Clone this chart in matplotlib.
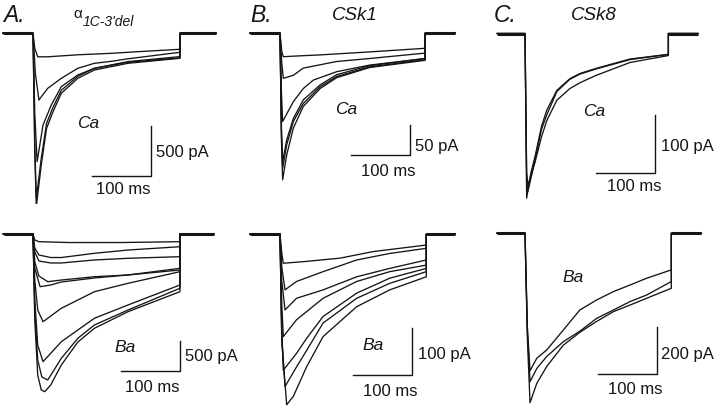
import matplotlib
matplotlib.use("Agg")
import matplotlib.pyplot as plt

plt.rcParams['font.family'] = ['Liberation Sans', 'DejaVu Sans']

# current traces: time (ms from pulse onset), current (pA)
# panel A, alpha1C-3'del, Ca
a_ca_t = [[0, 3, 8, 25, 76, 133, 189, 249],
          [0, 4, 10, 25, 48, 76, 104, 133, 161, 249],
          [0, 3, 7, 17, 31, 48, 76, 104, 161, 249],
          [0, 3, 5.6, 14, 23, 34, 48, 76, 104, 161, 249],
          [0, 3, 5.6, 14, 23, 34, 48, 76, 104, 161, 249]]
a_ca_i = [[0, -150, -235, -235, -215, -200, -180, -160],
          [0, -400, -667, -550, -450, -350, -300, -280, -255, -190],
          [0, -800, -1283, -917, -717, -533, -417, -350, -283, -233],
          [0, -1200, -1733, -1317, -950, -783, -600, -450, -367, -300, -250],
          [0, -1100, -1650, -1250, -900, -740, -570, -430, -350, -290, -245]]

# panel A, Ba
a_ba_t = [[0, 3, 10, 60, 150, 249],
          [0, 3, 10, 30, 48, 104, 161, 249],
          [0, 3, 10, 30, 48, 104, 161, 249],
          [0, 3, 10, 25, 48, 104, 161, 249],
          [0, 3, 12, 30, 48, 104, 161, 249],
          [0, 3, 8, 17, 48, 104, 161, 249],
          [0, 3, 8, 17, 48, 104, 161, 249],
          [0, 3, 8, 15, 25, 48, 76, 104, 161, 249],
          [0, 3, 8, 14, 20, 30, 48, 76, 104, 161, 249]]
a_ba_i = [[0, -100, -128, -142, -142, -128],
          [0, -233, -350, -392, -392, -322, -267, -212],
          [0, -300, -450, -483, -483, -433, -405, -378],
          [0, -467, -700, -795, -767, -712, -683, -600],
          [0, -567, -878, -850, -800, -733, -683, -572],
          [0, -767, -1267, -1462, -1238, -962, -822, -628],
          [0, -1100, -1850, -2128, -1795, -1405, -1183, -850],
          [0, -1267, -2100, -2383, -2433, -2072, -1738, -1517, -1267, -905],
          [0, -1433, -2350, -2600, -2628, -2517, -2183, -1800, -1572, -1295, -962]]

# panel B, CSk1, Ca
b_ca_t = [[0, 3, 5.6, 25, 68, 152, 246],
          [0, 3, 5.6, 22.6, 39.5, 96, 152, 246],
          [0, 2.5, 4.5, 22.6, 39.5, 56.5, 96, 152, 246],
          [0, 2.5, 4.5, 11.3, 22.6, 39.5, 68, 96, 152, 246],
          [0, 2.5, 4.5, 11.3, 22.6, 39.5, 68, 96, 152, 246],
          [0, 2.5, 4.5, 11.3, 22.6, 39.5, 68, 96, 152, 246]]
b_ca_i = [[0, -30, -39, -38, -36, -31, -25],
          [0, -50, -75, -70, -58, -47, -42, -33],
          [0, -100, -147, -114, -92, -78, -64, -53, -42],
          [0, -160, -214, -178, -142, -111, -86, -69, -54, -42],
          [0, -170, -225, -186, -147, -117, -89, -72, -56, -44],
          [0, -180, -244, -203, -158, -122, -92, -74, -57, -45]]

# panel B, Ba
b_ba_t = [[0, 3, 5.6, 45, 102, 158, 248],
          [0, 3, 8.5, 28, 73, 130, 186, 248],
          [0, 3, 8.5, 28, 73, 130, 186, 248],
          [0, 3, 5.6, 28, 73, 130, 186, 248],
          [0, 3, 5.6, 28, 45, 73, 130, 186, 248],
          [0, 3, 8.5, 28, 45, 73, 130, 186, 248],
          [0, 3, 11.3, 22.6, 45, 73, 130, 186, 248]]
b_ba_i = [[0, -40, -62, -58, -51, -37, -23],
          [0, -70, -119, -101, -80, -55, -41, -30],
          [0, -100, -162, -137, -119, -91, -73, -55],
          [0, -150, -219, -183, -137, -101, -80, -66],
          [0, -200, -291, -255, -223, -176, -126, -94, -73],
          [0, -220, -326, -284, -249, -190, -137, -105, -80],
          [0, -230, -365, -347, -284, -219, -155, -119, -91]]

# panel C, CSk8, Ca
c_ca_t = [[0, 2.8, 5, 10, 17, 28, 37, 54, 76, 93, 121, 178, 243],
          [0, 2.8, 5, 10, 17, 28, 37, 54, 76, 93, 121, 178, 243],
          [0, 2.8, 5, 10, 17, 28, 37, 54, 76, 93, 121, 178, 243]]
c_ca_i = [[0, -284, -270, -240, -212, -160, -132, -98, -78, -69, -60, -44, -36],
          [0, -255, -272, -250, -218, -165, -140, -100, -79, -70, -61, -45, -36],
          [0, -240, -262, -245, -222, -178, -150, -115, -95, -85, -72, -50, -38]]

# panel C, Ba
c_ba_t = [[0, 4, 8.5, 20, 36.7, 65, 93, 121.5, 150, 178, 206, 248],
          [0, 4, 8.5, 20, 36.7, 65, 93, 121.5, 150, 178, 206, 248],
          [0, 4, 8.5, 20, 36.7, 65, 93, 121.5, 150, 178, 206, 248]]
c_ba_i = [[0, -400, -590, -536, -501, -415, -329, -286, -250, -222, -193, -157],
          [0, -420, -637, -580, -529, -465, -420, -365, -329, -293, -265, -207],
          [0, -450, -727, -644, -572, -480, -425, -378, -336, -308, -279, -236]]

INK = '#151515'
W, H = 720, 408
SX = 0.59  # px per ms, same in every panel

fig = plt.figure(figsize=(7.2, 4.08), dpi=100)


def panel(x0, y0, sy, left, top, right, bottom):
    ax = fig.add_axes([left / W, 1 - bottom / H, (right - left) / W, (bottom - top) / H])
    ax.set_xlim((left - x0) / SX, (right - x0) / SX)
    ax.set_ylim((y0 - bottom) / sy, (y0 - top) / sy)
    ax.axis('off')
    return ax


def traces(ax, ts, cs, pre, post):
    end = ts[0][-1]
    ax.plot([pre, 0], [0, 0], color=INK, lw=2.2, solid_capstyle='butt')
    ax.plot([end, post], [0, 0], color=INK, lw=2.2, solid_capstyle='butt')
    for t, c in zip(ts, cs):
        ax.plot([pre] + t + [t[-1], post], [0] + c + [0, 0], color=INK, lw=0.95)


def scalebar(ax, t, i, di):
    ax.plot([t - 100, t, t], [i, i, i + di], color=INK, lw=1.0)


ax = panel(33, 33.3, 0.1, 0, 0, 240, 204)
traces(ax, a_ca_t, a_ca_i, -51, 310)
scalebar(ax, 200, -1427, 500)

ax = panel(33, 234, 0.06, 0, 204, 240, 408)
traces(ax, a_ba_t, a_ba_i, -50, 306)
scalebar(ax, 249, -2283, 500)

ax = panel(280, 33.3, 0.6, 240, 0, 480, 204)
traces(ax, b_ca_t, b_ca_i, -51, 297)
scalebar(ax, 221, -203, 50)

ax = panel(280, 234.3, 0.467, 240, 204, 480, 408)
traces(ax, b_ba_t, b_ba_i, -51, 297)
scalebar(ax, 223, -301, 100)

ax = panel(525, 33.5, 0.58, 480, 0, 720, 204)
traces(ax, c_ca_t, c_ca_i, -47, 293)
scalebar(ax, 220, -240, 100)

ax = panel(525, 233.3, 0.233, 480, 204, 720, 408)
traces(ax, c_ba_t, c_ba_i, -48, 299)
scalebar(ax, 223, -604, 200)


def label(x, y, s, size, ha='center', style='normal'):
    fig.text(x / W, 1 - y / H, s, fontsize=size, ha=ha, va='center',
             style=style, color=INK)


label(3, 15, 'A.', 16.5, ha='left', style='italic')
label(250, 15, 'B.', 16.5, ha='left', style='italic')
label(494, 15, 'C.', 16.5, ha='left', style='italic')
label(73, 14, '\u03b1', 11, ha='left')
label(83, 22, "1C-3'del", 10, ha='left', style='italic')
label(355, 15, 'CSk1', 13.5, style='italic')
label(594, 15, 'CSk8', 13.5, style='italic')

label(88, 123, 'Ca', 12.5, style='italic')
label(346, 110, 'Ca', 12.5, style='italic')
label(594, 112, 'Ca', 12.5, style='italic')
label(125, 347, 'Ba', 12.5, style='italic')
label(373, 345, 'Ba', 12.5, style='italic')
label(573, 278, 'Ba', 12.5, style='italic')

label(156, 153, '500 pA', 12, ha='left')
label(123, 189, '100 ms', 12)
label(185, 357, '500 pA', 12, ha='left')
label(152, 387, '100 ms', 12)
label(415, 146, '50 pA', 12, ha='left')
label(388, 171, '100 ms', 12)
label(418, 354, '100 pA', 12, ha='left')
label(390, 391, '100 ms', 12)
label(661, 146, '100 pA', 12, ha='left')
label(634, 187, '100 ms', 12)
label(661, 354, '200 pA', 12, ha='left')
label(635, 389, '100 ms', 12)

fig.savefig('out.png', dpi=100)
